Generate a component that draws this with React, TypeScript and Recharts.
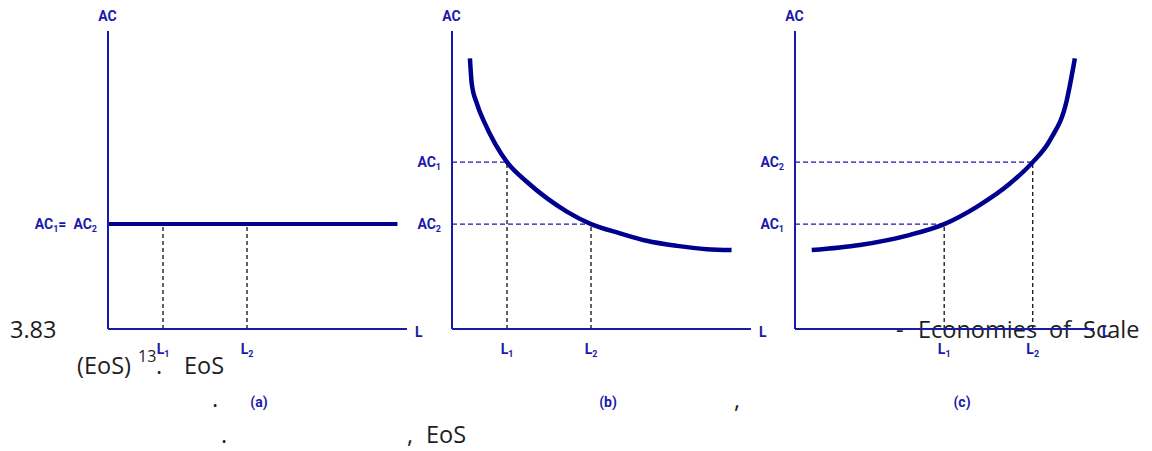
import React from 'react';
import { ComposedChart, Line, XAxis, YAxis, ReferenceLine, Label } from 'recharts';

// output (L) and average cost (AC), both read on a 0-100 scale
const lMarks = [18.4, 46.5];
const acLevels = [56.0, 35.2];

const flatQty = [0, 96.8];
const flatCost = [35.2, 35.2];

const fallingQty = [6.0, 6.6, 8.3, 11.0, 14.4, 18.4, 25.0, 31.7, 38.4, 46.5, 56.2, 65.1, 75.2, 85.2, 93.5];
const fallingCost = [90.8, 82.4, 75.7, 69.0, 62.2, 56.0, 49.4, 43.9, 39.4, 35.2, 32.1, 29.6, 27.9, 26.8, 26.5];

const risingQty = [5.6, 21.7, 38.5, 49.9, 60.8, 71.9, 79.5, 85.3, 90.9, 93.1, 93.6];
const risingCost = [26.5, 28.2, 31.6, 35.2, 41.0, 48.8, 56.0, 63.4, 76.8, 88.0, 90.8];
const risingMarks = [49.9, 79.5];

const subs = ['1', '2'];

const BLUE = '#1a1aaa';
const CURVE = '#00008f';
const DASH_V = '#222';
const LABEL_FONT = 'Roboto, "DejaVu Sans", sans-serif';
const DOC_FONT = '"Open Sans", "DejaVu Sans", sans-serif';

const toRows = (qty: number[], cost: number[]) => qty.map((q, i) => ({ q, ac: cost[i] }));

const XTick = (props: any) => {
  const { x, y, payload, ticks } = props;
  const i = ticks.indexOf(payload.value);
  return (
    <text x={x} y={y + 25} textAnchor="middle" fill={BLUE} fontFamily={LABEL_FONT} fontSize={14} fontWeight={700}>
      L<tspan fontSize={9} dy={3}>{subs[i]}</tspan>
    </text>
  );
};

const YTick = (props: any) => {
  const { x, y, payload, ticks, equal } = props;
  const i = ticks.indexOf(payload.value);
  if (equal) {
    return (
      <text x={x - 11} y={y + 5} textAnchor="end" fill={BLUE} fontFamily={LABEL_FONT} fontSize={14} fontWeight={700}>
        AC<tspan fontSize={9} dy={3}>1</tspan>
        <tspan dy={-3}>=</tspan>
        <tspan dx={7}>AC</tspan>
        <tspan fontSize={9} dy={3}>2</tspan>
      </text>
    );
  }
  return (
    <text x={x - 11} y={y + 5} textAnchor="end" fill={BLUE} fontFamily={LABEL_FONT} fontSize={14} fontWeight={700}>
      AC<tspan fontSize={9} dy={3}>{subs[i]}</tspan>
    </text>
  );
};

type PanelProps = {
  axisX: number;
  rows: { q: number; ac: number }[];
  xTicks: number[];
  yTicks: number[];
  equal?: boolean;
  flat?: boolean;
};

const Panel = ({ axisX, rows, xTicks, yTicks, equal, flat }: PanelProps) => {
  const left = 90;
  return (
    <div style={{ position: 'absolute', left: axisX - left, top: 0 }}>
      <ComposedChart width={left + 299 + 30} height={451} data={rows} margin={{ top: 31, right: 30, bottom: 121, left: left - 1 }}>
        <XAxis
          type="number"
          dataKey="q"
          domain={[0, 100]}
          ticks={xTicks}
          height={1}
          tickSize={0}
          tickMargin={0}
          tickLine={false}
          axisLine={{ stroke: BLUE, strokeWidth: 2 }}
          tick={<XTick ticks={xTicks} />}
        >
          <Label value="L" position="right" offset={8} dy={3} fill={BLUE} fontFamily={LABEL_FONT} fontSize={14} fontWeight={700} />
        </XAxis>
        <YAxis
          type="number"
          domain={[0, 100]}
          ticks={yTicks}
          width={1}
          tickSize={0}
          tickMargin={0}
          tickLine={false}
          axisLine={{ stroke: BLUE, strokeWidth: 2 }}
          tick={<YTick ticks={yTicks} equal={equal} />}
        >
          <Label value="AC" position="top" offset={10} fill={BLUE} fontFamily={LABEL_FONT} fontSize={14} fontWeight={700} />
        </YAxis>
        {!flat &&
          yTicks.map((v, i) => (
            <ReferenceLine
              key={'h' + i}
              segment={[{ x: 0, y: v }, { x: xTicks[i], y: v }]}
              stroke={BLUE}
              strokeWidth={1.2}
              strokeDasharray="5 3"
            />
          ))}
        {xTicks.map((v, i) => (
          <ReferenceLine
            key={'v' + i}
            segment={[{ x: v, y: 0 }, { x: v, y: flat ? yTicks[0] : yTicks[i] }]}
            stroke={DASH_V}
            strokeWidth={1.4}
            strokeDasharray="4 3"
          />
        ))}
        <Line
          type="monotone"
          dataKey="ac"
          stroke={CURVE}
          strokeWidth={flat ? 4 : 4.5}
          dot={false}
          isAnimationActive={false}
        />
      </ComposedChart>
    </div>
  );
};

const DocText = () => (
  <svg width={1152} height={451} style={{ position: 'absolute', left: 0, top: 0 }}>
    <g fill="#1e1e1e" fontFamily={DOC_FONT} fontSize={23.5}>
      <text x={10} y={338}>3.83</text>
      <text x={896} y={338}>-</text>
      <text x={918} y={338}>Economies</text>
      <text x={1049} y={338}>of</text>
      <text x={1083} y={338}>Scale</text>
      <text x={77} y={374}>(EoS)</text>
      <text x={138} y={362} fontSize={16}>13</text>
      <text x={156} y={374}>.</text>
      <text x={184} y={374}>EoS</text>
      <text x={212} y={407}>.</text>
      <text x={734} y={408}>,</text>
      <text x={221} y={443}>.</text>
      <text x={407} y={443}>,</text>
      <text x={426} y={443}>EoS</text>
    </g>
    <g fill={BLUE} fontFamily={LABEL_FONT} fontSize={14} fontWeight={700} textAnchor="middle">
      <text x={259} y={407}>(a)</text>
      <text x={608} y={407}>(b)</text>
      <text x={962} y={407}>(c)</text>
    </g>
  </svg>
);

export default function App() {
  return (
    <div style={{ position: 'relative', width: 1152, height: 451, background: '#fff', overflow: 'hidden' }}>
      <style>{'body{margin:0}'}</style>
      <DocText />
      <Panel axisX={108} rows={toRows(flatQty, flatCost)} xTicks={lMarks} yTicks={[acLevels[1]]} equal flat />
      <Panel axisX={452} rows={toRows(fallingQty, fallingCost)} xTicks={lMarks} yTicks={acLevels} />
      <Panel axisX={795} rows={toRows(risingQty, risingCost)} xTicks={risingMarks} yTicks={[acLevels[1], acLevels[0]]} />
    </div>
  );
}
